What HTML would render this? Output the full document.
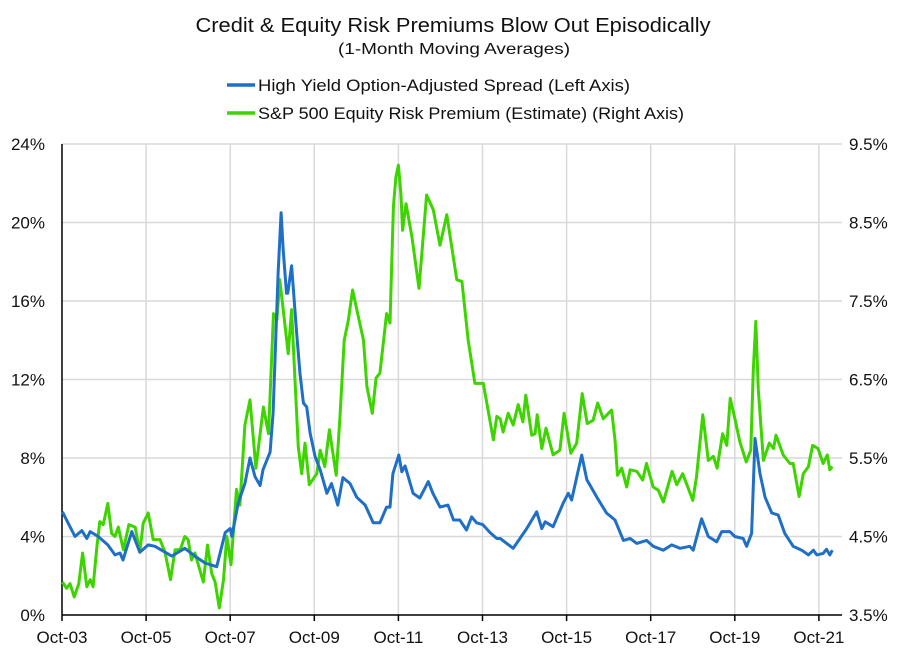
<!DOCTYPE html>
<html><head><meta charset="utf-8">
<style>
html,body{margin:0;padding:0;background:#fff;}
svg{display:block;font-family:"Liberation Sans",sans-serif;}
</style></head>
<body>
<svg id="chart" width="910" height="660" viewBox="0 0 910 660">
<rect x="0" y="0" width="910" height="660" fill="#fff"/>
<text x="453" y="32" text-anchor="middle" font-size="20" textLength="515" lengthAdjust="spacingAndGlyphs" fill="#111">Credit &amp; Equity Risk Premiums Blow Out Episodically</text>
<text x="454" y="54" text-anchor="middle" font-size="16" textLength="232" lengthAdjust="spacingAndGlyphs" fill="#111">(1-Month Moving Averages)</text>
<g>
<line x1="227" y1="85" x2="255" y2="85" stroke="#1f6fc6" stroke-width="3.5"/>
<text x="258" y="91" font-size="17" textLength="372" lengthAdjust="spacingAndGlyphs" fill="#111">High Yield Option-Adjusted Spread (Left Axis)</text>
</g>
<g>
<line x1="227" y1="113" x2="255" y2="113" stroke="#3dd400" stroke-width="3.5"/>
<text x="258" y="119" font-size="17" textLength="426" lengthAdjust="spacingAndGlyphs" fill="#111">S&amp;P 500 Equity Risk Premium (Estimate) (Right Axis)</text>
</g>
<g id="grid"></g>
<g id="axes"></g>
<g id="series"></g>
</svg>
<script>
const leftTicks=[0,4,8,12,16,20,24];
const leftTickLabels=["0%","4%","8%","12%","16%","20%","24%"];
const rightTicks=[3.5,4.5,5.5,6.5,7.5,8.5,9.5];
const rightTickLabels=["3.5%","4.5%","5.5%","6.5%","7.5%","8.5%","9.5%"];
const xTicks=[2003.75,2005.75,2007.75,2009.75,2011.75,2013.75,2015.75,2017.75,2019.75,2021.75];
const xTickLabels=["Oct-03","Oct-05","Oct-07","Oct-09","Oct-11","Oct-13","Oct-15","Oct-17","Oct-19","Oct-21"];

const hyDates=[2003.76,2004.06,2004.22,2004.34,2004.42,2004.61,2004.84,2005.01,2005.13,2005.20,2005.41,2005.60,2005.80,2005.96,2006.36,2006.67,2006.91,2007.15,2007.43,2007.63,2007.75,2007.79,2007.94,2008.10,2008.22,2008.34,2008.46,2008.53,2008.70,2008.77,2008.86,2008.89,2008.96,2009.01,2009.09,2009.12,2009.21,2009.33,2009.41,2009.49,2009.57,2009.65,2009.77,2009.89,2010.05,2010.16,2010.31,2010.43,2010.60,2010.76,2010.96,2011.15,2011.31,2011.47,2011.55,2011.62,2011.76,2011.83,2011.91,2012.10,2012.26,2012.46,2012.57,2012.74,2012.93,2013.06,2013.21,2013.37,2013.49,2013.61,2013.76,2013.93,2014.09,2014.17,2014.48,2014.64,2014.80,2015.04,2015.16,2015.24,2015.43,2015.67,2015.79,2015.87,2016.11,2016.23,2016.47,2016.70,2016.90,2017.10,2017.26,2017.42,2017.65,2017.81,2018.05,2018.25,2018.45,2018.68,2018.76,2018.96,2019.12,2019.32,2019.44,2019.63,2019.75,2019.95,2020.03,2020.15,2020.23,2020.35,2020.47,2020.63,2020.78,2020.94,2021.14,2021.34,2021.50,2021.62,2021.70,2021.85,2021.93,2022.01,2022.07];
const hyValues=[5.26,4.0,4.3,3.9,4.25,4.0,3.57,3.06,3.16,2.8,4.25,3.2,3.57,3.5,3.0,3.4,3.0,2.65,2.46,4.2,4.4,4.0,5.7,6.7,8.0,7.05,6.6,7.4,8.3,10.3,15.7,17.4,20.5,18.6,16.4,16.4,17.8,14.4,12.3,10.8,10.6,9.27,8.07,7.4,6.2,6.7,5.6,7.0,6.7,6.0,5.6,4.7,4.7,5.5,5.5,7.2,8.15,7.3,7.6,6.2,5.96,6.8,6.2,5.5,5.6,4.84,4.84,4.33,5.0,4.7,4.6,4.2,3.9,3.9,3.4,3.9,4.4,5.26,4.4,4.75,4.5,5.7,6.2,5.86,8.15,6.9,6.0,5.2,4.84,3.8,3.9,3.65,3.8,3.5,3.3,3.57,3.4,3.5,3.3,4.9,4.0,3.73,4.25,4.25,4.0,3.9,3.5,4.16,9.0,7.2,6.0,5.2,5.1,4.16,3.5,3.3,3.06,3.3,3.06,3.14,3.35,3.06,3.3];

const erpDates=[2003.76,2003.86,2003.94,2004.04,2004.15,2004.24,2004.34,2004.42,2004.49,2004.58,2004.65,2004.73,2004.84,2004.93,2005.01,2005.09,2005.21,2005.34,2005.49,2005.60,2005.68,2005.80,2005.92,2006.08,2006.20,2006.33,2006.44,2006.56,2006.67,2006.75,2006.83,2006.91,2007.11,2007.21,2007.31,2007.39,2007.49,2007.59,2007.67,2007.77,2007.90,2007.98,2008.10,2008.22,2008.36,2008.54,2008.66,2008.78,2008.86,2008.93,2009.01,2009.13,2009.21,2009.29,2009.37,2009.45,2009.53,2009.63,2009.81,2009.89,2010.00,2010.11,2010.27,2010.36,2010.46,2010.56,2010.66,2010.76,2010.92,2011.00,2011.13,2011.22,2011.31,2011.47,2011.55,2011.63,2011.69,2011.75,2011.81,2011.85,2011.93,2012.07,2012.24,2012.42,2012.58,2012.74,2012.90,2013.14,2013.26,2013.41,2013.57,2013.77,2014.01,2014.09,2014.17,2014.24,2014.36,2014.48,2014.60,2014.71,2014.78,2014.92,2015.00,2015.05,2015.16,2015.26,2015.43,2015.59,2015.69,2015.85,2015.99,2016.12,2016.24,2016.38,2016.49,2016.62,2016.82,2016.90,2016.96,2017.06,2017.18,2017.26,2017.42,2017.56,2017.65,2017.81,2017.93,2018.05,2018.13,2018.26,2018.37,2018.51,2018.61,2018.75,2018.84,2018.99,2019.12,2019.24,2019.33,2019.46,2019.56,2019.64,2019.74,2019.87,2020.02,2020.13,2020.19,2020.25,2020.31,2020.43,2020.57,2020.67,2020.73,2020.90,2021.06,2021.14,2021.28,2021.38,2021.50,2021.60,2021.73,2021.85,2021.95,2022.01,2022.07];
const erpValues=[3.92,3.84,3.9,3.73,3.9,4.29,3.86,3.95,3.86,4.37,4.69,4.65,4.92,4.54,4.5,4.62,4.33,4.65,4.62,4.3,4.67,4.8,4.46,4.46,4.3,3.95,4.33,4.33,4.5,4.46,4.2,4.29,3.92,4.39,4.03,3.92,3.59,3.95,4.5,4.14,5.1,4.9,5.92,6.24,5.37,6.15,5.81,7.34,7.26,7.77,7.39,6.83,7.39,6.49,5.64,5.3,5.69,5.16,5.3,5.6,5.39,5.86,5.28,6.03,7.0,7.26,7.64,7.39,7.0,6.41,6.07,6.52,6.58,7.34,7.22,8.7,9.08,9.23,8.87,8.4,8.74,8.32,7.66,8.85,8.66,8.21,8.6,7.77,7.75,7.0,6.45,6.45,5.73,6.03,6.0,5.83,6.07,5.92,6.18,5.96,6.3,5.79,5.81,6.05,5.62,5.88,5.54,5.6,6.07,5.56,5.69,6.32,5.94,5.98,6.2,6.0,6.11,5.73,5.28,5.37,5.13,5.35,5.33,5.22,5.43,5.13,5.09,4.94,5.09,5.33,5.16,5.3,5.16,4.96,5.26,6.05,5.47,5.52,5.37,5.81,5.66,6.26,6.03,5.71,5.45,5.6,6.62,7.24,6.37,5.47,5.69,5.62,5.79,5.54,5.43,5.43,5.01,5.3,5.39,5.66,5.62,5.43,5.54,5.35,5.39];

const NS="http://www.w3.org/2000/svg";
const PL=62,PR=842,PT=144,PB=615;
function xScale(t){return PL+(t-2003.75)*42.05;}
function yLeft(v){return PB-(v-0)/24*(PB-PT);}
function yRight(v){return PB-(v-3.5)/6*(PB-PT);}
function mk(tag,attrs,parent){const e=document.createElementNS(NS,tag);for(const k in attrs)e.setAttribute(k,attrs[k]);parent.appendChild(e);return e;}
const grid=document.getElementById('grid'),axes=document.getElementById('axes'),series=document.getElementById('series');

leftTicks.forEach((v,i)=>{
  const y=yLeft(v);
  if(v>0){const g=mk('line',{x1:PL,x2:PR,y1:y,y2:y,stroke:'#d9d9d9','stroke-width':1.5},grid);
  
  }
  const t=mk('text',{x:45,y:y+6,'text-anchor':'end','font-size':17,fill:'#111'},axes);
  t.textContent=leftTickLabels[i];
  
  
});
rightTicks.forEach((v,i)=>{
  const y=yRight(v);
  const t=mk('text',{x:849,y:y+6,'text-anchor':'start','font-size':17,fill:'#111'},axes);
  t.textContent=rightTickLabels[i];
  
  
});
xTicks.forEach((v,i)=>{
  const x=xScale(v);
  if(i>0){const g=mk('line',{x1:x,x2:x,y1:PT,y2:PB,stroke:'#d9d9d9','stroke-width':1.5},grid);
  
  }
  const tk=mk('line',{x1:x,x2:x,y1:PB,y2:PB+6,stroke:'#000','stroke-width':1.5},axes);
  
  
  const t=mk('text',{x:x,y:PB+28,'text-anchor':'middle','font-size':17,fill:'#111'},axes);
  t.textContent=xTickLabels[i];
  
  
});
const ay=mk('line',{x1:PL,x2:PL,y1:PT,y2:PB,stroke:'#000','stroke-width':1.5},axes);


const ax=mk('line',{x1:PL,x2:PR,y1:PB,y2:PB,stroke:'#000','stroke-width':1.5},axes);



function path(dates,vals,ys){return dates.map((d,i)=>(i?'L':'M')+xScale(d).toFixed(1)+','+ys(vals[i]).toFixed(1)).join(' ');}
const g1=mk('path',{d:path(erpDates,erpValues,yRight),fill:'none',stroke:'#3dd400','stroke-width':3,'stroke-linejoin':'round'},series);


const b1=mk('path',{d:path(hyDates,hyValues,yLeft),fill:'none',stroke:'#1f6fc6','stroke-width':3,'stroke-linejoin':'round'},series);


</script>
</body></html>
